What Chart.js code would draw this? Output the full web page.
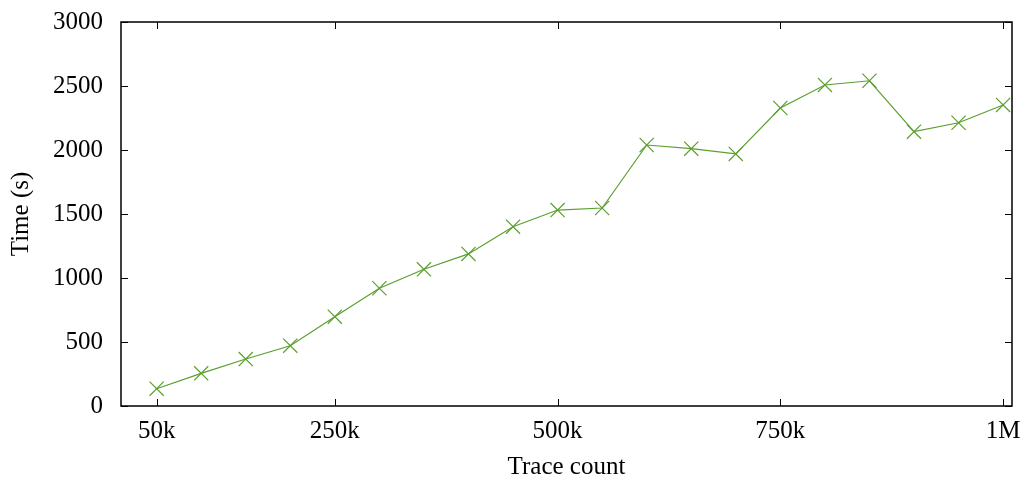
<!DOCTYPE html>
<html>
<head>
<meta charset="utf-8">
<script src="https://cdn.jsdelivr.net/npm/chart.js@4"></script>
<style>
  html, body { margin: 0; padding: 0; background: #fff; }
  #wrap { width: 1030px; height: 479px; }
</style>
</head>
<body>
<div id="wrap"><canvas id="trace-time"></canvas></div>
<script>
// trace counts (k) and run time in seconds
const traceCounts = [50, 100, 150, 200, 250, 300, 350, 400, 450, 500,
                     550, 600, 650, 700, 750, 800, 850, 900, 950, 1000];
const times = [135, 255, 367, 471, 698, 920, 1068, 1188, 1401, 1531,
               1547, 2039, 2010, 1969, 2328, 2508, 2541, 2143, 2213, 2352];
const xTicks = [50, 250, 500, 750, 1000];
const xTickLabels = ['50k', '250k', '500k', '750k', '1M'];
const yTicks = [0, 500, 1000, 1500, 2000, 2500, 3000];

const lineColor = '#5a9f2e';
const serif = "'Liberation Serif', 'DejaVu Serif', serif";

// gnuplot style frame with inward tick marks on all four sides
const frame = {
  id: 'frame',
  afterDatasetsDraw(chart) {
    const { ctx, chartArea: a, scales } = chart;
    const len = 7;
    ctx.save();
    ctx.strokeStyle = '#000';
    ctx.lineWidth = 1;
    ctx.beginPath();
    xTicks.forEach(v => {
      const x = Math.round(scales.x.getPixelForValue(v)) + 0.5;
      ctx.moveTo(x, a.bottom); ctx.lineTo(x, a.bottom - len);
      ctx.moveTo(x, a.top); ctx.lineTo(x, a.top + len);
    });
    yTicks.forEach(v => {
      const y = Math.round(scales.y.getPixelForValue(v)) + 0.5;
      ctx.moveTo(a.left, y); ctx.lineTo(a.left + len, y);
      ctx.moveTo(a.right, y); ctx.lineTo(a.right - len, y);
    });
    ctx.stroke();
    ctx.lineWidth = 1.5;
    ctx.strokeRect(a.left, a.top, a.right - a.left, a.bottom - a.top);
    ctx.restore();
  }
};

new Chart(document.getElementById('trace-time'), {
  type: 'line',
  data: {
    datasets: [{
      data: traceCounts.map((c, i) => ({ x: c, y: times[i] })),
      borderColor: lineColor,
      borderWidth: 1.2,
      pointStyle: 'crossRot',
      pointRadius: 10,
      pointBorderColor: lineColor,
      pointBorderWidth: 1.2,
      tension: 0,
      fill: false
    }]
  },
  options: {
    responsive: true,
    maintainAspectRatio: false,
    animation: false,
    layout: { padding: { top: 22, right: 18, left: 0, bottom: 0 } },
    plugins: { legend: { display: false }, tooltip: { enabled: false } },
    scales: {
      x: {
        type: 'linear',
        min: 10,
        max: 1010,
        afterBuildTicks(scale) { scale.ticks = xTicks.map(v => ({ value: v })); },
        afterFit(scale) {
          scale.height = 73;
          scale.paddingLeft = 0;
          scale.paddingRight = 0;
        },
        grid: { display: false, drawTicks: false },
        border: { display: false },
        ticks: {
          padding: 10,
          color: '#000',
          font: { family: serif, size: 25 },
          maxRotation: 0,
          autoSkip: false,
          callback: (v) => xTickLabels[xTicks.indexOf(v)]
        },
        title: {
          display: true,
          text: 'Trace count',
          color: '#000',
          font: { family: serif, size: 25 },
          padding: { top: 0, bottom: -3 }
        }
      },
      y: {
        min: 0,
        max: 3000,
        afterBuildTicks(scale) { scale.ticks = yTicks.map(v => ({ value: v })); },
        afterFit(scale) {
          scale.width = 121;
          scale.paddingTop = 0;
          scale.paddingBottom = 0;
        },
        grid: { display: false, drawTicks: false },
        border: { display: false },
        ticks: {
          padding: 18,
          color: '#000',
          font: { family: serif, size: 25 },
          callback: (v) => String(v)
        },
        title: {
          display: true,
          text: 'Time (s)',
          color: '#000',
          font: { family: serif, size: 25 },
          padding: { top: 6, bottom: 0 }
        }
      }
    }
  },
  plugins: [frame]
});
</script>
</body>
</html>
